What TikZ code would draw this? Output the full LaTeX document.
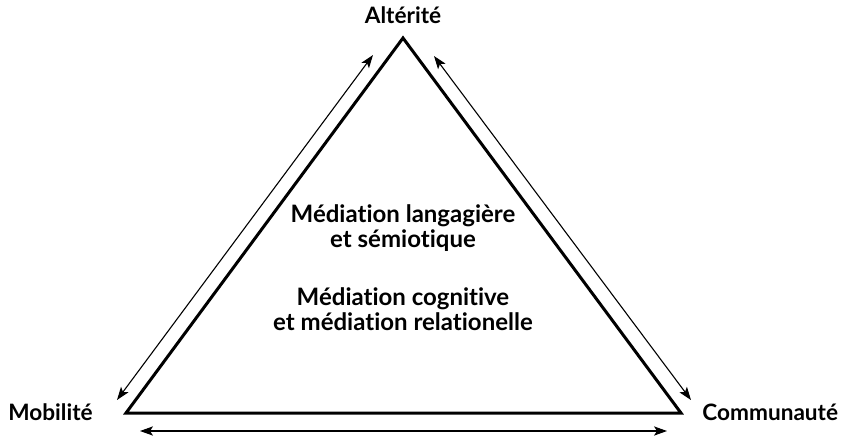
\documentclass[tikz,border=0pt]{standalone}
\usepackage{fontspec}
\setmainfont{Lato}[Ligatures=NoCommon]
\usepackage{tikz}
\usetikzlibrary{calc,arrows.meta}

\begin{document}
\begin{tikzpicture}[x=0.5pt,y=-0.5pt,
  pole/.style={font=\bfseries\fontsize{11.3}{13}\selectfont,inner sep=0pt},
  centre/.style={font=\bfseries\fontsize{12}{12.2}\selectfont,align=center},
  lien/.style={line width=0.55pt,{Stealth[length=6.5pt,width=4.6pt,inset=1.5pt]}-{Stealth[length=6.5pt,width=4.6pt,inset=1.5pt]}}]
\useasboundingbox (0,0) rectangle (847,440);
\coordinate (A) at (403,38);
\coordinate (M) at (126,413);
\coordinate (C) at (681,413);
\draw[line width=1.5pt,line join=miter] (A) -- (C) -- (M) -- cycle;
\node[pole] (alt) at (403,15) {Altérité};
\node[pole,anchor=east] (mob) at (93,412) {Mobilité};
\node[pole,anchor=west] (com) at (702,412) {Communauté};
\node[centre] (ml) at (403,228) {Médiation langagière\\et sémiotique};
\node[centre] (mc) at (403,309) {Médiation cognitive\\et médiation relationelle};
% double arrows
\coordinate (g1) at (117,400);
\coordinate (g2) at (373,55);
\coordinate (d1) at (434,56);
\coordinate (d2) at (691,400);
\coordinate (b1) at (140,431);
\coordinate (b2) at (667,431);
\draw[lien] (g1) -- (g2);
\draw[lien] (d1) -- (d2);
\draw[lien] (b1) -- (b2);
\end{tikzpicture}
\end{document}
